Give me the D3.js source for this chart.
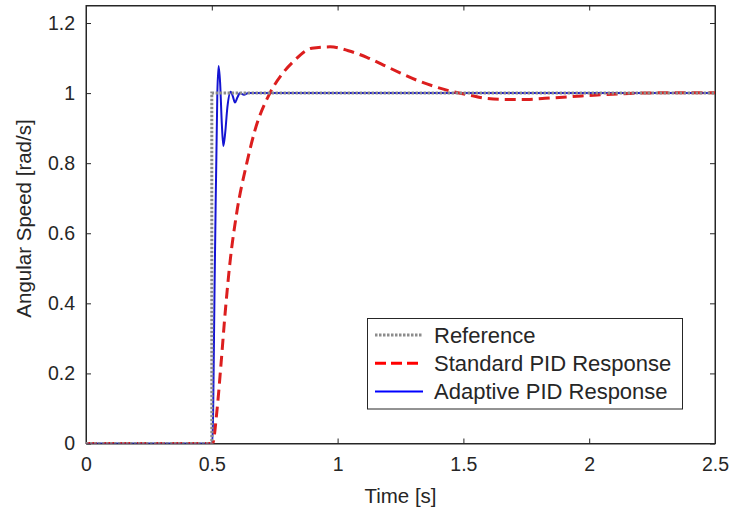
<!DOCTYPE html>
<html><head><meta charset="utf-8">
<script src="https://cdn.jsdelivr.net/npm/d3@7"></script>
<style>body{margin:0;background:#fff}svg{display:block}text{font-family:"Liberation Sans",Arial,sans-serif;fill:#262626}</style>
</head><body><svg id="c" width="730" height="512"></svg>
<script>
// Data
const xTicks = [0, 0.5, 1, 1.5, 2, 2.5];
const xTickLabels = ["0", "0.5", "1", "1.5", "2", "2.5"];
const yTicks = [0, 0.2, 0.4, 0.6, 0.8, 1, 1.2];
const yTickLabels = ["0", "0.2", "0.4", "0.6", "0.8", "1", "1.2"];

const refT = [0, 0.5, 0.5, 2.5];
const refV = [0, 0, 1, 1];

const stdT = [0, 0.5, 0.503, 0.52, 0.537, 0.553, 0.572, 0.599, 0.639, 0.672, 0.731, 0.78, 0.824, 0.897, 0.97, 1.043, 1.116, 1.182, 1.248, 1.314, 1.38, 1.447, 1.526, 1.592, 1.672, 1.751, 1.824, 1.896, 1.97, 2.043, 2.122, 2.2, 2.333, 2.5];
const stdV = [0, 0, 0, 0.09, 0.23, 0.372, 0.515, 0.658, 0.8, 0.895, 1.0, 1.055, 1.09, 1.128, 1.132, 1.121, 1.102, 1.08, 1.058, 1.037, 1.02, 1.006, 0.994, 0.985, 0.982, 0.982, 0.985, 0.988, 0.992, 0.995, 0.998, 1.0, 1.001, 1.001];

const adpT = [0, 0.5, 0.502, 0.512, 0.522, 0.527, 0.533, 0.54, 0.546, 0.553, 0.562, 0.575, 0.584, 0.592, 0.602, 0.612, 0.628, 0.645, 0.7, 2.5];
const adpV = [0, 0, 0, 0.5, 1.0, 1.077, 1.03, 0.91, 0.849, 0.885, 0.96, 1.004, 0.99, 0.973, 0.988, 1.0, 0.995, 1.0, 1.0, 1.0];

const legendLabels = ["Reference", "Standard PID Response", "Adaptive PID Response"];

const svg = d3.select("#c");
const L = 86, R = 715, T = 5.5, B = 443.5;
const x = d3.scaleLinear().domain([0, 2.5]).range([L, R]);
const y = d3.scaleLinear().domain([0, 1.25]).range([B, T]);

const axisCol = "#262626";
svg.append("defs").append("clipPath").attr("id", "clip")
  .append("rect").attr("x", L).attr("y", T).attr("width", R - L).attr("height", B - T);

// axes
const fmtX = (d, i) => xTickLabels[i];
const fmtY = (d, i) => yTickLabels[i];
const gx = svg.append("g").attr("transform", `translate(0,${B})`)
  .call(d3.axisBottom(x).tickValues(xTicks).tickFormat(fmtX).tickSizeInner(-5).tickSizeOuter(0).tickPadding(14));
const gxt = svg.append("g").attr("transform", `translate(0,${T})`)
  .call(d3.axisTop(x).tickValues(xTicks).tickFormat("").tickSizeInner(-5).tickSizeOuter(0));
const gy = svg.append("g").attr("transform", `translate(${L},0)`)
  .call(d3.axisLeft(y).tickValues(yTicks).tickFormat(fmtY).tickSizeInner(-5).tickSizeOuter(0).tickPadding(11));
const gyr = svg.append("g").attr("transform", `translate(${R},0)`)
  .call(d3.axisRight(y).tickValues(yTicks).tickFormat("").tickSizeInner(-5).tickSizeOuter(0));
[gx, gxt, gy, gyr].forEach(g => {
  g.selectAll("path").attr("stroke", axisCol).attr("stroke-width", 1);
  g.selectAll("line").attr("stroke", axisCol).attr("stroke-width", 1);
  g.selectAll("text").attr("font-size", 19.5).attr("font-family", "Liberation Sans, Arial, sans-serif").attr("fill", axisCol);
});
svg.append("rect").attr("x", L).attr("y", T).attr("width", R - L).attr("height", B - T)
  .attr("fill", "none").attr("stroke", axisCol).attr("stroke-width", 1);

// lines
const plot = svg.append("g").attr("clip-path", "url(#clip)");
const mk = (ts, vs) => ts.map((t, i) => [t, vs[i]]);
const lineLin = d3.line().x(d => x(d[0])).y(d => y(d[1]));
const lineSm = d3.line().x(d => x(d[0])).y(d => y(d[1])).curve(d3.curveMonotoneX);

const blue = "#1414d2", red = "#dc1e1e", gray = "#8c8c8c";
plot.append("path").attr("d", lineSm(mk(adpT, adpV))).attr("fill", "none")
  .attr("stroke", blue).attr("stroke-width", 2);
plot.append("path").attr("d", lineSm(mk(stdT, stdV))).attr("fill", "none")
  .attr("stroke", red).attr("stroke-width", 3).attr("stroke-dasharray", "11,6");
plot.append("path").attr("d", lineLin(mk(refT, refV))).attr("fill", "none")
  .attr("stroke", gray).attr("stroke-width", 3).attr("stroke-dasharray", "2.5,1.5");

// axis labels
svg.append("text").attr("x", (L + R) / 2).attr("y", 503).attr("text-anchor", "middle")
  .attr("font-size", 20.5).text("Time [s]");
svg.append("text").attr("transform", `translate(31,${(T + B) / 2 - 6}) rotate(-90)`)
  .attr("text-anchor", "middle").attr("font-size", 20.5).text("Angular Speed [rad/s]");

// legend
const lg = svg.append("g");
lg.append("rect").attr("x", 367.5).attr("y", 318.5).attr("width", 315).attr("height", 90.5)
  .attr("fill", "#fff").attr("stroke", axisCol).attr("stroke-width", 1);
const styles = [
  {c: gray, w: 3, d: "2.5,1.5"},
  {c: "#ff0000", w: 3, d: "11,5"},
  {c: "#0000ff", w: 2, d: null}
];
legendLabels.forEach((lab, i) => {
  const cy = 335 + i * 28.3;
  const ln = lg.append("line").attr("x1", 375).attr("x2", 423).attr("y1", cy).attr("y2", cy)
    .attr("stroke", styles[i].c).attr("stroke-width", styles[i].w);
  if (styles[i].d) ln.attr("stroke-dasharray", styles[i].d);
  lg.append("text").attr("x", 434).attr("y", cy + 7.5).attr("font-size", 22).attr("fill", "#000").text(lab);
});
</script></body></html>
